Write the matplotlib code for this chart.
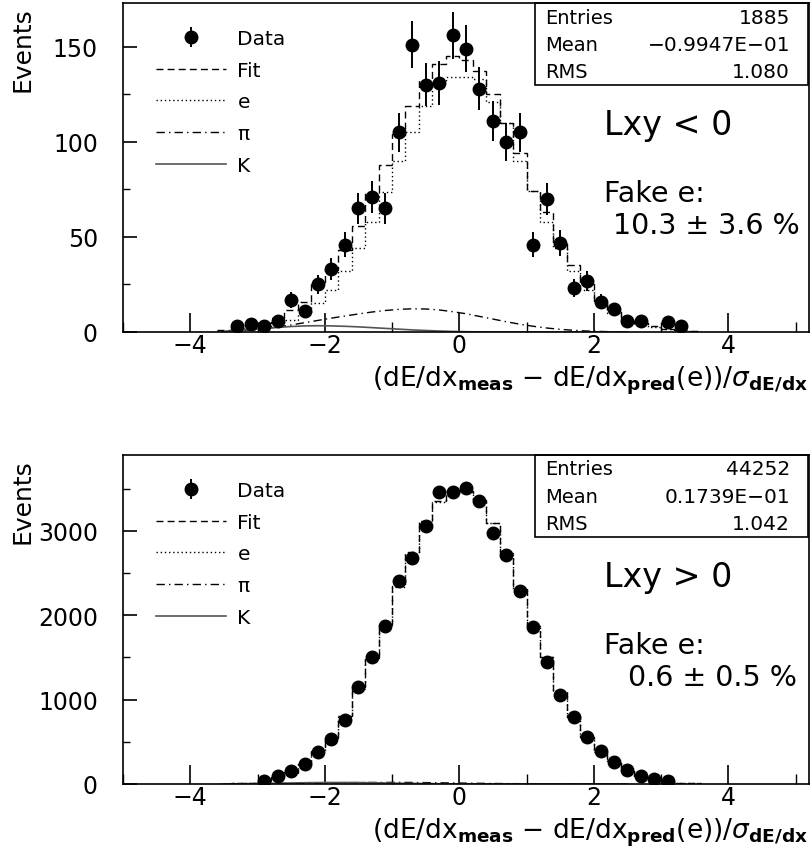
import numpy as np
import matplotlib.pyplot as plt
from matplotlib.patches import Rectangle
from matplotlib.ticker import MultipleLocator

# ---- data ----
bin_w = 0.2

# top panel (Lxy < 0)
top_x = [-3.3, -3.1, -2.9, -2.7, -2.5, -2.3, -2.1, -1.9, -1.7, -1.5, -1.3, -1.1,
         -0.9, -0.7, -0.5, -0.3, -0.1, 0.1, 0.3, 0.5, 0.7, 0.9, 1.1, 1.3,
         1.5, 1.7, 1.9, 2.1, 2.3, 2.5, 2.7, 3.1, 3.3]
top_counts = [3, 4, 3, 6, 17, 11, 25, 33, 46, 65, 71, 65,
              105, 151, 130, 131, 156, 149, 128, 111, 100, 105, 46, 70,
              47, 23, 27, 16, 12, 6, 6, 5, 3]

fit_x = [-3.5, -3.3, -3.1, -2.9, -2.7, -2.5, -2.3, -2.1, -1.9, -1.7, -1.5, -1.3,
         -1.1, -0.9, -0.7, -0.5, -0.3, -0.1, 0.1, 0.3, 0.5, 0.7, 0.9, 1.1,
         1.3, 1.5, 1.7, 1.9, 2.1, 2.3, 2.5, 2.7, 2.9, 3.1, 3.3, 3.5]
top_fit = [1, 2, 3, 4.7, 7.3, 11.7, 15.7, 25, 32.6, 43, 56, 73.6,
           87.6, 104, 119, 132.6, 141, 145, 143, 137, 125, 110, 94, 74,
           63, 47, 35, 25, 17, 11, 7, 4.5, 3, 1.8, 1.2, 0.6]
top_e = [0.5, 1, 1.5, 2, 4, 6.5, 10, 15, 22, 32, 44, 58,
         73.6, 90, 105, 119, 132, 134, 134, 133, 121, 110, 90, 74,
         58, 44, 32, 22, 15, 10, 6.5, 4, 2.5, 1.5, 1, 0.5]

comp_x = [-3.5, -3.3, -3.1, -2.9, -2.7, -2.5, -2.3, -2.1, -1.9, -1.7, -1.5, -1.3,
          -1.1, -0.9, -0.7, -0.5, -0.3, -0.1, 0.1, 0.3, 0.5, 0.7, 0.9, 1.1,
          1.3, 1.5, 1.7, 1.9, 2.1, 2.3, 2.5]
top_pi = [0.2, 0.5, 1, 1.7, 2.6, 3.7, 4.9, 6.1, 7.3, 8.4, 9.5, 10.5,
          11.3, 11.9, 12.2, 12.1, 11.6, 10.7, 9.6, 8.2, 6.8, 5.4, 4.1, 3.0,
          2.1, 1.4, 0.9, 0.5, 0.3, 0.1, 0.0]
top_k = [0.3, 0.7, 1.2, 1.8, 2.4, 2.9, 3.2, 3.3, 3.2, 3.0, 2.7, 2.3,
         1.9, 1.5, 1.1, 0.8, 0.5, 0.3, 0.15, 0.05, 0, 0, 0, 0,
         0, 0, 0, 0, 0, 0, 0]

# bottom panel (Lxy > 0)
bot_x = [-2.9, -2.7, -2.5, -2.3, -2.1, -1.9, -1.7, -1.5, -1.3, -1.1,
         -0.9, -0.7, -0.5, -0.3, -0.1, 0.1, 0.3, 0.5, 0.7, 0.9,
         1.1, 1.3, 1.5, 1.7, 1.9, 2.1, 2.3, 2.5, 2.7, 2.9, 3.1]
bot_counts = [39, 91, 150, 237, 383, 534, 763, 1147, 1503, 1871,
              2405, 2677, 3057, 3460, 3467, 3511, 3354, 2974, 2716, 2293,
              1859, 1451, 1050, 790, 560, 390, 260, 170, 100, 60, 30]
bot_fit = [2, 6, 14, 32, 79, 139, 237, 395, 554, 810, 1147, 1506, 1898,
           2349, 2748, 3123, 3354, 3468, 3470, 3366, 3096, 2740, 2313, 1878,
           1506, 1100, 800, 560, 380, 250, 160, 95, 55, 30, 14, 6]
bot_e = [2, 6, 14, 31, 77, 136, 232, 388, 545, 798, 1132, 1489, 1879,
         2330, 2730, 3106, 3340, 3455, 3460, 3358, 3090, 2735, 2309, 1875,
         1504, 1099, 799, 559, 380, 250, 160, 95, 55, 30, 14, 6]
bot_pi = [0, 1, 2, 3, 5, 7, 9, 11, 13, 15, 17, 18, 19, 19, 18, 16, 14, 12,
          10, 8, 6, 5, 4, 3, 2, 1, 1, 0, 0, 0, 0]
bot_k = [1, 2, 4, 6, 9, 12, 15, 17, 18, 18, 17, 15, 12, 9, 7, 5, 3, 2,
         1, 1, 0, 0, 0, 0, 0, 0, 0, 0, 0, 0, 0]

panels = [
    dict(x=top_x, n=top_counts, fit=top_fit, e=top_e, pi=top_pi, k=top_k,
         ymax=173, yticks=50, ytick_minor=25, rect_px=(123, 4, 809, 333),
         stats=('1885', '\u22120.9947E\u221201', '1.080'),
         label='Lxy < 0', fake='10.3 \u00b1 3.6 %', fake_x=613),
    dict(x=bot_x, n=bot_counts, fit=bot_fit, e=bot_e, pi=bot_pi, k=bot_k,
         ymax=3900, yticks=1000, ytick_minor=500, rect_px=(123, 456, 809, 785),
         stats=('44252', '0.1739E\u221201', '1.042'),
         label='Lxy > 0', fake='0.6 \u00b1 0.5 %', fake_x=628),
]

W, H = 811, 862
fig = plt.figure(figsize=(W / 100, H / 100), dpi=100)
plt.rcParams['font.family'] = 'DejaVu Sans'


def fx(px):
    return px / W


def fy(py):
    return 1 - py / H


for p in panels:
    x0, y0, x1, y1 = p['rect_px']
    ax = fig.add_axes([fx(x0), fy(y1), (x1 - x0) / W, (y1 - y0) / H])
    if p is panels[0]:
        bc = np.array(fit_x)
    else:
        bc = np.round(np.arange(-3.5, 3.6, 0.2), 1)
    fe = np.append(bc - bin_w / 2, bc[-1] + bin_w / 2)
    ax.stairs(p['fit'], fe, baseline=None, color='black', lw=1.0,
              linestyle=(0, (5, 3)), label='Fit')
    ax.stairs(p['e'], fe, baseline=None, color='black', lw=1.0,
              linestyle=(0, (1, 2)), label='e')
    ax.plot(comp_x, p['pi'], color='black', lw=1.0,
            linestyle=(0, (6, 3, 1, 3)), label='\u03c0')
    ax.plot(comp_x, p['k'], color='#555555', lw=1.2, label='K')
    n = np.array(p['n'], dtype=float)
    ax.errorbar(p['x'], n, yerr=np.sqrt(n), fmt='o', color='black',
                ms=9, elinewidth=1.4, capsize=0, label='Data')

    ax.set_xlim(-5, 5.2)
    ax.set_ylim(0, p['ymax'])
    ax.xaxis.set_major_locator(MultipleLocator(2))
    ax.xaxis.set_minor_locator(MultipleLocator(1))
    ax.yaxis.set_major_locator(MultipleLocator(p['yticks']))
    ax.yaxis.set_minor_locator(MultipleLocator(p['ytick_minor']))
    ax.tick_params(axis='x', which='major', direction='in', length=14, width=1.2,
                   labelsize=17, pad=1, top=False)
    ax.tick_params(axis='x', which='minor', direction='in', length=7, width=1.0, top=False)
    ax.tick_params(axis='y', which='major', direction='in', length=10, width=1.2,
                   labelsize=17, pad=18, right=False)
    ax.tick_params(axis='y', which='minor', direction='in', length=5, width=1.0, right=False)
    for s in ax.spines.values():
        s.set_linewidth(1.2)

    h, l = ax.get_legend_handles_labels()
    order = [l.index(k) for k in ['Data', 'Fit', 'e', '\u03c0', 'K']]
    ax.legend([h[i] for i in order], [l[i] for i in order], loc='upper left',
              bbox_to_anchor=(0.048, 0.922), frameon=False, fontsize=14.5,
              handlelength=3.5, handletextpad=0.55, labelspacing=0.64,
              borderpad=0, borderaxespad=0)

    # stats box
    bx0, by0, bx1, by1 = 535, y0, 808, y0 + 82
    fig.patches.append(Rectangle((fx(bx0), fy(by1)), (bx1 - bx0) / W, (by1 - by0) / H,
                                 transform=fig.transFigure, fill=False, lw=1.2,
                                 edgecolor='black'))
    for i, (name, val) in enumerate(zip(['Entries', 'Mean', 'RMS'], p['stats'])):
        yy = y0 + 14 + 27.5 * i
        fig.text(fx(545), fy(yy), name, fontsize=14, va='center', ha='left')
        fig.text(fx(790), fy(yy), val, fontsize=14.5, va='center', ha='right')

    fig.text(fx(604), fy(y0 + 122), p['label'], fontsize=24, va='center', ha='left')
    fig.text(fx(604), fy(y0 + 190), 'Fake e:', fontsize=20.5, va='center', ha='left')
    fig.text(fx(p['fake_x']), fy(y0 + 222), p['fake'], fontsize=20.5, va='center', ha='left')

    fig.text(fx(23), fy(y0 + 3), 'Events', fontsize=18, rotation=90, va='top', ha='center')
    fig.text(fx(808), fy(y1 + 48),
             r'(dE/dx$_{\mathbf{meas}}$ $-$ dE/dx$_{\mathbf{pred}}$(e))/$\sigma_{\mathbf{dE/dx}}$',
             fontsize=19, va='center', ha='right')

fig.savefig('out.png', dpi=100)
